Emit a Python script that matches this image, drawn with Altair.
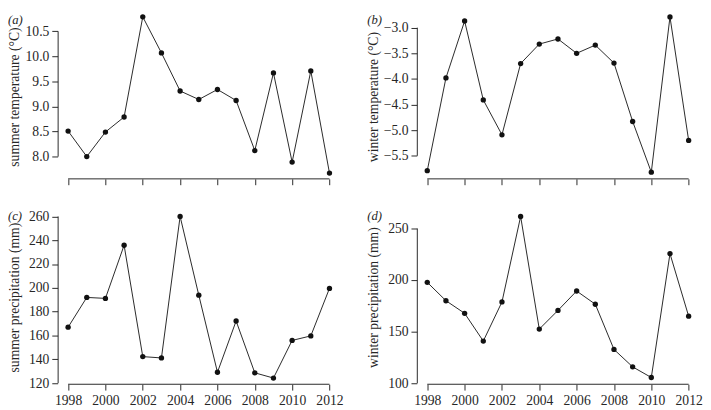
import altair as alt
import pandas as pd

years = list(range(1998, 2013))
summer_temperature = [8.51, 8.00, 8.49, 8.79, 10.79, 10.07, 9.31, 9.14, 9.34, 9.12, 8.12, 9.67, 7.89, 9.71, 7.67]
winter_temperature = [-5.79, -3.98, -2.87, -4.41, -5.09, -3.70, -3.32, -3.22, -3.50, -3.34, -3.69, -4.83, -5.82, -2.79, -5.20]
summer_precipitation = [167.0, 192.0, 191.2, 235.8, 142.3, 141.2, 260.0, 193.9, 129.2, 172.2, 128.7, 124.3, 155.9, 159.7, 199.6]
winter_precipitation = [197.8, 180.0, 167.8, 140.9, 178.8, 261.6, 152.5, 170.6, 189.4, 176.6, 132.8, 115.9, 105.6, 225.6, 165.0]

x_ticks = [1998, 2000, 2002, 2004, 2006, 2008, 2010, 2012]
ticks_a = [8.0, 8.5, 9.0, 9.5, 10.0, 10.5]
ticks_b = [-5.5, -5.0, -4.5, -4.0, -3.5, -3.0]
ticks_c = [120, 140, 160, 180, 200, 220, 240, 260]
ticks_d = [100, 150, 200, 250]

letters = ["(a)", "(b)", "(c)", "(d)"]
titles = ["summer temperature (°C)", "winter temperature (°C)",
          "summer precipitation (mm)", "winter precipitation (mm)"]

FONT = "Liberation Serif"
INK = "#262626"
W = 290


def panel(values, letter, title, yticks, ydomain, fmt, height, xlabels):
    df = pd.DataFrame({"year": years, "value": values})
    one = pd.DataFrame({"k": [0]})
    xscale = alt.Scale(domain=[1997.44, 2012.56], nice=False, zero=False)
    yscale = alt.Scale(domain=ydomain, nice=False, zero=False)
    xaxis = alt.Axis(values=x_ticks, tickCount=30, format="d", labels=xlabels,
                     domain=False, grid=False,
                     ticks=True, tickSize=6, tickColor=INK, tickWidth=1,
                     labelFont=FONT, labelFontSize=14, labelColor=INK, labelPadding=4,
                     labelOverlap=False, title=None)
    yaxis = alt.Axis(values=yticks, tickCount=30, format=fmt, domain=False, grid=False,
                     ticks=True, tickSize=6, tickColor=INK, tickWidth=1,
                     labelFont=FONT, labelFontSize=14, labelColor=INK, labelPadding=3,
                     labelOverlap=False, minExtent=34, maxExtent=34,
                     title=title, titleFont=FONT, titleFontSize=14, titleFontWeight="normal",
                     titleColor=INK, titlePadding=3)
    line = alt.Chart(df).mark_line(color=INK, strokeWidth=1).encode(
        x=alt.X("year:Q", scale=xscale, axis=xaxis),
        y=alt.Y("value:Q", scale=yscale, axis=yaxis),
    )
    pts = alt.Chart(df).mark_circle(size=30, color="#111111", opacity=1).encode(
        x="year:Q", y="value:Q"
    )
    yline = alt.Chart(one).mark_rule(color=INK, strokeWidth=1).encode(
        x=alt.value(0.5), y=alt.datum(yticks[0]), y2=alt.datum(yticks[-1])
    )
    xline = alt.Chart(one).mark_rule(color=INK, strokeWidth=1).encode(
        x=alt.datum(x_ticks[0]), x2=alt.datum(x_ticks[-1]), y=alt.value(height)
    )
    lab = alt.Chart(one).mark_text(
        text=letter, font=FONT, fontStyle="italic", fontSize=13, color=INK,
        align="left", baseline="top"
    ).encode(x=alt.value(-51), y=alt.value(0))
    return alt.layer(line, pts, yline, xline, lab).properties(width=W, height=height)


pa = panel(summer_temperature, letters[0], titles[0], ticks_a, [7.555, 10.84], ".1f", 169, False)
pb = panel(winter_temperature, letters[1], titles[1], ticks_b, [-5.95, -2.74], ".1f", 169, False)
pc = panel(summer_precipitation, letters[2], titles[2], ticks_c, [119.1, 265.4], "d", 179, True)
pd_ = panel(winter_precipitation, letters[3], titles[3], ticks_d, [99.05, 267.9], "d", 179, True)

chart = alt.concat(
    pa, pb, pc, pd_, columns=2,
    spacing=alt.RowColnumber(column=24, row=24),
    align="each",
).properties(
    padding={"left": 0, "top": 0, "right": 0, "bottom": 0},
    background="white",
).configure_view(stroke=None)

chart.save("out.html", embed_options={"renderer": "svg", "actions": False})
